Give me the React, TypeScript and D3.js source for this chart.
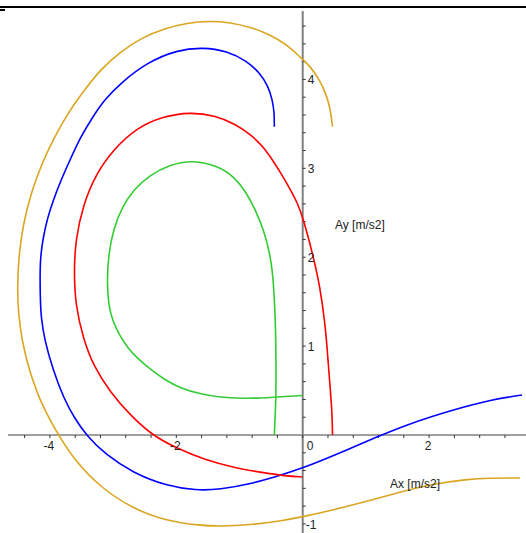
import React from "react";
import * as d3 from "d3";

type P = [number, number];

const green: P[] = [
  [-0.449, 0], [-0.438, 0.169], [-0.422, 0.427], [-0.422, 0.844], [-0.43, 1.26],
  [-0.454, 1.609], [-0.478, 1.834], [-0.525, 2.059], [-0.612, 2.295], [-0.739, 2.52],
  [-0.897, 2.734], [-1.087, 2.908], [-1.34, 3.026], [-1.736, 3.093], [-2.1, 3.043],
  [-2.416, 2.925], [-2.669, 2.767], [-2.859, 2.565], [-2.994, 2.317], [-3.073, 2.036],
  [-3.097, 1.721], [-3.073, 1.462], [-3.002, 1.271], [-2.891, 1.114], [-2.78, 0.99],
  [-2.606, 0.855], [-2.416, 0.742], [-2.179, 0.619], [-1.941, 0.529], [-1.625, 0.461],
  [-1.309, 0.422], [-0.945, 0.411], [-0.644, 0.416], [-0.422, 0.427], [0, 0.444],
];

const red: P[] = [
  [0.472, 0], [0.464, 0.281], [0.424, 0.619], [0.389, 0.956], [0.353, 1.257],
  [0.274, 1.668], [0.168, 2.006], [0.009, 2.438], [-0.09, 2.621], [-0.201, 2.767],
  [-0.312, 2.908], [-0.462, 3.077], [-0.623, 3.243], [-0.834, 3.386], [-1.071, 3.498],
  [-1.388, 3.594], [-1.783, 3.633], [-2.21, 3.583], [-2.622, 3.459], [-3.002, 3.206],
  [-3.271, 2.936], [-3.476, 2.587], [-3.595, 2.194], [-3.619, 1.834], [-3.595, 1.462],
  [-3.476, 1.091], [-3.31, 0.776], [-3.049, 0.484], [-2.717, 0.214], [-2.385, 0],
  [-2.005, -0.146], [-1.546, -0.281], [-1.071, -0.371], [-0.597, -0.427], [-0.28, -0.461],
  [-0.005, -0.472],
];

const blue: P[] = [
  [-0.449, 3.468], [-0.449, 3.619], [-0.478, 3.768], [-0.549, 3.926], [-0.676, 4.069],
  [-0.881, 4.207], [-1.198, 4.32], [-1.578, 4.361], [-1.989, 4.331], [-2.464, 4.19],
  [-2.859, 3.971], [-3.128, 3.78], [-3.318, 3.583], [-3.516, 3.352], [-3.682, 3.093],
  [-3.824, 2.868], [-3.946, 2.643], [-4.038, 2.441], [-4.104, 2.231], [-4.149, 2.014],
  [-4.157, 1.781], [-4.152, 1.552], [-4.141, 1.327], [-4.085, 1.069], [-3.951, 0.731],
  [-3.777, 0.405], [-3.603, 0.18], [-3.413, -0.011], [-3.128, -0.214], [-2.685, -0.427],
  [-2.152, -0.574], [-1.688, -0.624], [-1.309, -0.613], [-0.834, -0.551], [-0.438, -0.472],
  [-0.011, -0.377], [0.59, -0.202], [1.207, -0.011], [1.619, 0.107], [2.062, 0.214],
  [2.489, 0.304], [2.964, 0.394], [3.47, 0.45],
];

const orange: P[] = [
  [0.472, 3.468], [0.44, 3.656], [0.377, 3.825], [0.274, 3.982], [0.131, 4.14],
  [-0.043, 4.252], [-0.253, 4.393], [-0.517, 4.505], [-0.834, 4.59], [-1.15, 4.64],
  [-1.467, 4.657], [-1.831, 4.635], [-2.179, 4.573], [-2.543, 4.472], [-2.891, 4.308],
  [-3.207, 4.106], [-3.476, 3.858], [-3.714, 3.622], [-3.919, 3.363], [-4.125, 3.06],
  [-4.299, 2.722], [-4.426, 2.362], [-4.497, 1.991], [-4.516, 1.631], [-4.497, 1.35],
  [-4.441, 1.069], [-4.362, 0.821], [-4.267, 0.607], [-4.157, 0.394], [-4.014, 0.191],
  [-3.856, -0.011], [-3.587, -0.304], [-3.207, -0.585], [-2.685, -0.832], [-2.152, -0.967],
  [-1.625, -1.018], [-1.309, -1.029], [-0.834, -1.012], [-0.312, -0.962], [-0.011, -0.922],
  [0.479, -0.844], [1.013, -0.748], [1.54, -0.641], [2.062, -0.551], [2.595, -0.498],
  [2.964, -0.484], [3.438, -0.484],
];

const series = [
  { name: "orange", color: "#DAA520", pts: orange },
  { name: "blue", color: "#0000FF", pts: blue },
  { name: "red", color: "#FF0000", pts: red },
  { name: "green", color: "#33CC33", pts: green },
];

const xTickLabels = [-4, -2, 0, 2];
const yTickLabels = [-1, 1, 2, 3, 4];
const xLabel = "Ax [m/s2]";
const yLabel = "Ay [m/s2]";

const W = 526;
const H = 533;

export default function App() {
  const x = d3.scaleLinear().domain([0, 1]).range([302.7, 302.7 + 63.2]);
  const y = d3.scaleLinear().domain([0, 1]).range([435, 435 - 88.9]);
  const line = d3
    .line<P>()
    .x((d) => x(d[0]))
    .y((d) => y(d[1]))
    .curve(d3.curveBasis);

  const xMinorTicks = d3.range(-11, 9).map((i) => +(i * 0.4).toFixed(2));
  const yMinorTicks = d3.range(-5, 24).map((i) => +(i * 0.2).toFixed(2));
  const font = "Liberation Sans, Arial, sans-serif";
  const axisColor = "#808080";

  return (
    <svg
      width={W}
      height={H}
      style={{ position: "absolute", left: 0, top: 0, background: "#fff" }}
    >
      <rect x={0} y={0} width={W} height={H} fill="#fff" />
      <line x1={0} x2={W} y1={7} y2={7} stroke="#000" strokeWidth={2} />
      <rect x={0} y={9} width={5} height={2} fill="#000" />

      {/* axes */}
      <line x1={8} x2={W} y1={y(0)} y2={y(0)} stroke={axisColor} strokeWidth={1.6} />
      <line x1={x(0)} x2={x(0)} y1={11} y2={H} stroke={axisColor} strokeWidth={2} />

      {xMinorTicks.map((t) => (
        <line
          key={"xt" + t}
          x1={x(t)}
          x2={x(t)}
          y1={y(0)}
          y2={y(0) + 3}
          stroke="#333"
          strokeWidth={1}
        />
      ))}
      {yMinorTicks
        .filter((t) => t !== 0)
        .map((t) => (
          <line
            key={"yt" + t}
            x1={x(0)}
            x2={x(0) + 3}
            y1={y(t)}
            y2={y(t)}
            stroke="#333"
            strokeWidth={1}
          />
        ))}

      {/* curves */}
      {series.map((s) => (
        <path
          key={s.name}
          d={line(s.pts) || ""}
          fill="none"
          stroke={s.color}
          strokeWidth={1.6}
          strokeLinejoin="round"
        />
      ))}

      {/* tick labels */}
      {xTickLabels.map((t) => (
        <text
          key={"xl" + t}
          x={t === 0 ? x(0) + 4 : x(t) - 1}
          y={y(0) + 15}
          textAnchor={t === 0 ? "start" : "middle"}
          fontFamily={font}
          fontSize={12}
          fill="#222"
        >
          {t}
        </text>
      ))}
      {yTickLabels.map((t) => (
        <text
          key={"yl" + t}
          x={t < 0 ? x(0) + 3 : x(0) + 5}
          y={y(t) + 5}
          textAnchor="start"
          fontFamily={font}
          fontSize={12}
          fill="#222"
        >
          {t}
        </text>
      ))}

      <text x={335} y={229} fontFamily={font} fontSize={12} fill="#222">
        {yLabel}
      </text>
      <text x={390} y={488} fontFamily={font} fontSize={12} fill="#222">
        {xLabel}
      </text>
    </svg>
  );
}
